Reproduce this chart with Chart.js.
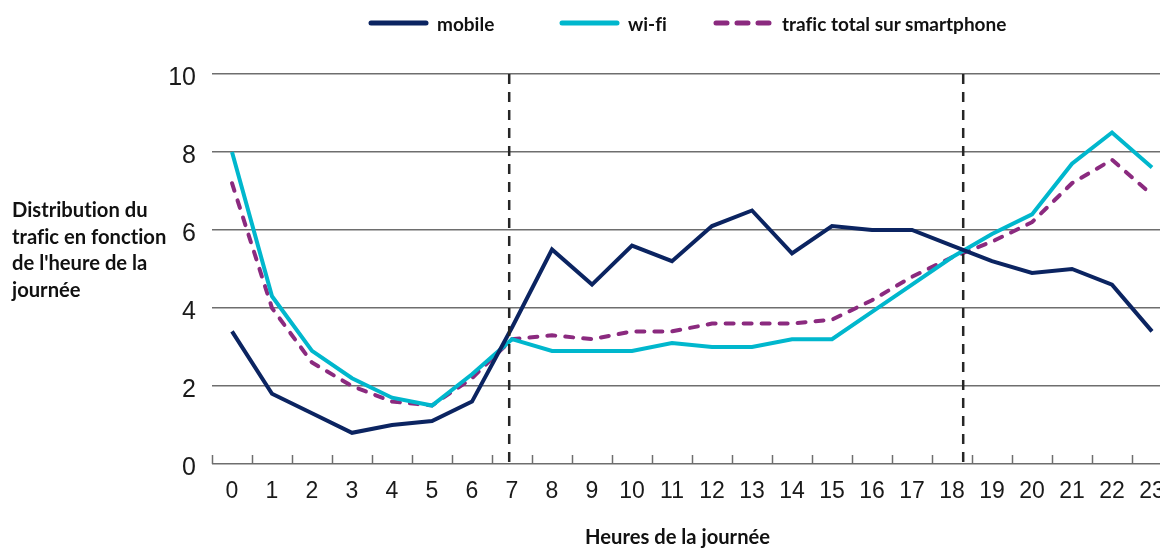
<!DOCTYPE html>
<html>
<head>
<meta charset="utf-8">
<script src="https://cdn.jsdelivr.net/npm/chart.js@4.4.1/dist/chart.umd.min.js"></script>
<style>
html,body{margin:0;padding:0;background:#fff;width:1160px;height:548px;overflow:hidden}
#wrap{position:relative;width:1160px;height:548px;overflow:hidden}
canvas{position:absolute;left:0;top:0}
.lab{position:absolute;font-family:Lato,'Open Sans',sans-serif;font-weight:700;font-size:20.2px;color:#111;white-space:nowrap;font-variant-ligatures:none}
.leg{position:absolute;top:12px;height:22px;display:flex;align-items:center}
.leg svg{display:block}
.leg span{margin-left:8px;font-family:Lato,'Open Sans',sans-serif;font-weight:700;font-size:19px;color:#111;font-variant-ligatures:none}
</style>
</head>
<body>
<div id="wrap">
  <canvas id="trafficChart" width="1180" height="548"></canvas>
  <div id="legend"></div>
  <div class="lab" style="left:12px;top:196px;line-height:26.6px">Distribution du<br>trafic en fonction<br>de l'heure de la<br>journée</div>
  <div class="lab" style="left:585px;top:524px">Heures de la journée</div>
</div>
<script>
const hours=['0','1','2','3','4','5','6','7','8','9','10','11','12','13','14','15','16','17','18','19','20','21','22','23'];
const mobile=[3.4,1.8,1.3,0.8,1.0,1.1,1.6,3.5,5.5,4.6,5.6,5.2,6.1,6.5,5.4,6.1,6.0,6.0,5.6,5.2,4.9,5.0,4.6,3.4];
const wifi=[8.0,4.3,2.9,2.2,1.7,1.5,2.3,3.2,2.9,2.9,2.9,3.1,3.0,3.0,3.2,3.2,3.9,4.6,5.3,5.9,6.4,7.7,8.5,7.6];
const total=[7.2,4.0,2.6,2.0,1.6,1.5,2.2,3.2,3.3,3.2,3.4,3.4,3.6,3.6,3.6,3.7,4.2,4.8,5.3,5.7,6.2,7.2,7.8,6.9];
const yTicks=[0,2,4,6,8,10];
const markerHours=[6.93,18.28];

const series=[
  {label:'mobile',data:mobile,color:'#0b2461',dash:[],legendX:368},
  {label:'wi-fi',data:wifi,color:'#00b7cd',dash:[],legendX:559},
  {label:'trafic total sur smartphone',data:total,color:'#8b2a7f',dash:[8,10],legendX:713}
];

// legend in html, lines drawn as small svgs
const legend=document.getElementById('legend');
series.forEach(s=>{
  const d=document.createElement('div'); d.className='leg'; d.style.left=s.legendX+'px';
  const dash=s.dash.length?' stroke-dasharray="11 10"':'';
  d.innerHTML=`<svg width="61" height="8"><line x1="3" y1="4" x2="58" y2="4" stroke="${s.color}" stroke-width="5" stroke-linecap="round"${dash}/></svg><span>${s.label}</span>`;
  legend.appendChild(d);
});

const overlay={
  id:'overlay',
  afterDatasetsDraw(chart){
    const {ctx,chartArea:a,scales:{x}}=chart;
    ctx.save();
    ctx.strokeStyle='#6e6e6e'; ctx.lineWidth=1.5;
    for(let i=0;i<=hours.length;i++){
      const px=Math.round(x.getPixelForValue(i-0.5))+0.5;
      ctx.beginPath(); ctx.moveTo(px,a.bottom); ctx.lineTo(px,a.bottom-9); ctx.stroke();
    }
    ctx.strokeStyle='#262626'; ctx.lineWidth=2.5; ctx.setLineDash([10,8]);
    markerHours.forEach(h=>{
      const px=x.getPixelForValue(h);
      ctx.beginPath(); ctx.moveTo(px,a.top); ctx.lineTo(px,a.bottom); ctx.stroke();
    });
    ctx.restore();
  }
};

new Chart(document.getElementById('trafficChart'),{
  type:'line',
  data:{labels:hours,datasets:series.map(s=>({label:s.label,data:s.data,borderColor:s.color,backgroundColor:s.color,borderWidth:4,borderDash:s.dash,borderCapStyle:s.dash.length?'round':'butt',pointRadius:0,tension:0,fill:false}))},
  options:{
    responsive:false,animation:false,
    layout:{padding:{top:74,right:8,left:0,bottom:0}},
    plugins:{legend:{display:false},tooltip:{enabled:false}},
    scales:{
      x:{offset:true,grid:{display:false},border:{display:false},
        ticks:{color:'#1a1a1a',font:{family:'Liberation Sans',size:23},padding:6,maxRotation:0,autoSkip:false},
        afterFit(s){s.height=84;}},
      y:{min:0,max:10,afterBuildTicks(s){s.ticks=yTicks.map(v=>({value:v}));},
        grid:{color:'#6e6e6e',lineWidth:1.5,drawTicks:false},border:{display:false},
        ticks:{color:'#1a1a1a',font:{family:'Liberation Sans',size:25},padding:16,labelOffset:4},
        afterFit(s){s.width=212;}}
    }
  },
  plugins:[overlay]
});
</script>
</body>
</html>
